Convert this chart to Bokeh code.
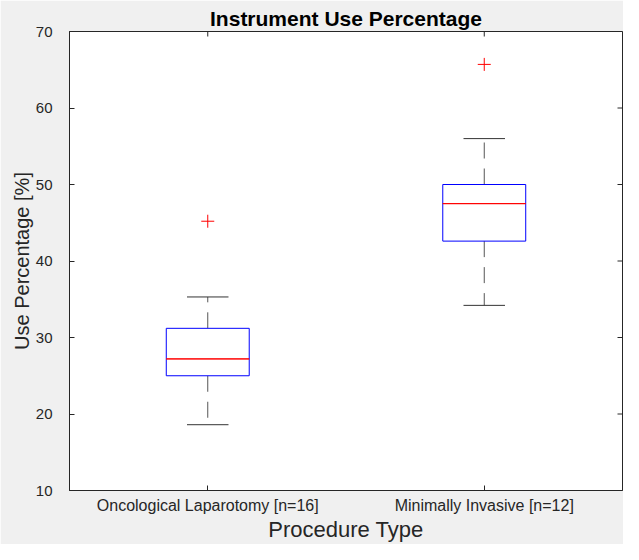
from math import pi
from bokeh.plotting import figure
from bokeh.models import FactorRange, Range1d, FixedTicker, ColumnDataSource
from bokeh.transform import dodge
from bokeh.embed import file_html
from bokeh.resources import INLINE

categories = ["Oncological Laparotomy [n=16]", "Minimally Invasive [n=12]"]
lower_whisker = [18.6, 34.2]
q1 = [25.0, 42.6]
median = [27.2, 47.5]
q3 = [31.2, 50.0]
upper_whisker = [35.3, 56.0]
outlier_cat = ["Oncological Laparotomy [n=16]", "Minimally Invasive [n=12]"]
outlier_val = [45.2, 65.7]
y_ticks = [10, 20, 30, 40, 50, 60, 70]

FONT = "Liberation Sans"
AX = "#262626"

src = ColumnDataSource(dict(cat=categories, lo=lower_whisker, q1=q1, med=median, q3=q3, hi=upper_whisker))
osrc = ColumnDataSource(dict(cat=outlier_cat, val=outlier_val))

y_lo, y_hi = y_ticks[0], y_ticks[-1]
p = figure(x_range=FactorRange(*categories, range_padding=0), y_range=Range1d(y_lo, y_hi),
           width=623, height=544, output_backend="svg", toolbar_location=None,
           min_border_left=69, min_border_right=1, min_border_top=31, min_border_bottom=49)

p.border_fill_color = "#f0f0f0"
p.background_fill_color = "white"
p.outline_line_color = AX
p.outline_line_width = 1
p.grid.visible = False

p.title.text = "Instrument Use Percentage"
p.title.align = "center"
p.title.text_font = FONT
p.title.text_font_size = "21px"
p.title.text_font_style = "bold"
p.title.text_color = "black"
p.title.standoff = 3
p.title.offset = 0

# whiskers
p.segment(x0="cat", y0="q3", x1="cat", y1="hi", source=src, line_color="#555555", line_width=1, line_dash="16 10")
p.segment(x0="cat", y0="q1", x1="cat", y1="lo", source=src, line_color="#555555", line_width=1, line_dash="16 10")
# caps
for col in ["lo", "hi"]:
    p.segment(x0=dodge("cat", -0.075, range=p.x_range), y0=col, x1=dodge("cat", 0.075, range=p.x_range), y1=col,
              source=src, line_color="#333333", line_width=1)
# box
p.vbar(x="cat", width=0.3, bottom="q1", top="q3", source=src, fill_color="white", line_color="#0000ff", line_width=1)
# median
p.vbar(x="cat", width=0.3, bottom="med", top="med", source=src, fill_color=None,
       line_color="#ff0000", line_width=1)
# outliers
p.scatter(x="cat", y="val", source=osrc, marker="cross", size=13, line_color="#ff0000", line_width=1)

# mirrored inward ticks on the top and right edges of the box (clipped to the frame)
p.scatter(x=categories, y=[y_hi] * len(categories), marker="dash", angle=pi / 2, size=10,
          line_color=AX, line_width=1)
p.scatter(x=[float(len(categories))] * len(y_ticks), y=y_ticks, marker="dash", size=10,
          line_color=AX, line_width=1)

for ax in [p.xaxis[0], p.yaxis[0]]:
    ax.major_tick_in = 5
    ax.major_tick_out = 0
    ax.minor_tick_line_color = None
    ax.axis_line_color = AX
    ax.major_tick_line_color = AX
    ax.major_label_text_font = FONT
    ax.major_label_text_color = AX
    ax.axis_label_text_font = FONT
    ax.axis_label_text_font_style = "normal"
    ax.axis_label_text_color = AX

p.yaxis.ticker = FixedTicker(ticks=y_ticks)
p.yaxis.major_label_text_font_size = "15px"
p.yaxis.major_label_standoff = 17
p.yaxis.axis_label = "Use Percentage [%]"
p.yaxis.axis_label_text_font_size = "20px"
p.yaxis.axis_label_standoff = 0

p.xaxis.major_label_text_font_size = "16px"
p.xaxis.major_label_standoff = 6
p.xaxis.axis_label = "Procedure Type"
p.xaxis.axis_label_text_font_size = "22px"
p.xaxis.axis_label_standoff = 0

open("out.html", "w").write(file_html(p, INLINE))
